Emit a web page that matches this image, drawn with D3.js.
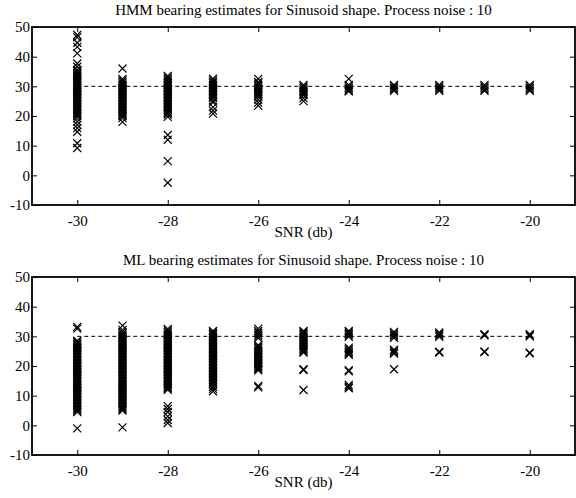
<!DOCTYPE html>
<html>
<head>
<meta charset="utf-8">
<script src="https://cdn.jsdelivr.net/npm/d3@7"></script>
<style>
  body { margin: 0; background: #fff; }
  text { font-family: "Liberation Serif", "Times New Roman", serif; fill: #000; }
</style>
</head>
<body>
<div id="chart"></div>
<script>
// SNR levels (db) for the columns
var snrLevels = [-30, -29, -28, -27, -26, -25, -24, -23, -22, -21, -20];
var xTicks = [-30, -28, -26, -24, -22, -20];
var yTicks = [-10, 0, 10, 20, 30, 40, 50];
var trueBearing = 30;

var titles = [
  "HMM bearing estimates for Sinusoid shape. Process noise : 10",
  "ML bearing estimates for Sinusoid shape. Process noise : 10"
];

// HMM estimates, one list per SNR level
var hmmEstimates = [
  [47.3, 46.5, 44.7, 43.3, 41.1, 37.7, 36.6, 35.5, 35, 34.5, 34, 33.5, 33, 32.5, 32, 31.5, 31, 30.5, 30, 29.5, 29, 28.5, 28, 27.5, 27,
   26.5, 26, 25.5, 25, 24.5, 24, 23.5, 23, 22.5, 22, 21.5, 21, 20.5, 20, 19.2, 18.1, 17, 15.9, 14.7, 10.8, 9.2],
  [36, 32.5, 32, 31.5, 31, 30.5, 30, 29.5, 29, 28.5, 28, 27.5, 27, 26.5, 26, 25.5, 25, 24.5, 24, 23.5, 23, 22.5, 22, 21.5, 21,
   20.5, 20, 19.3, 18],
  [33.5, 33, 32.5, 32, 31.5, 31, 30.5, 30, 29.5, 29, 28.5, 28, 27.5, 27, 26.5, 26, 25.5, 25, 24.5, 24, 23.5, 23, 22.5, 22, 21.5,
   21, 20.5, 19.7, 13.6, 12, 4.8, -2.5],
  [32.6, 32, 31.5, 31, 30.5, 30, 29.5, 29, 28.5, 28, 27.5, 27, 26.5, 26, 25.2, 24.6, 23, 21.8, 20.8],
  [32.5, 31.5, 31, 30.5, 30, 29.5, 29, 28.5, 28, 27.5, 27, 26.5, 25.5, 24.5, 23.5],
  [30.5, 30, 29.5, 29, 28.5, 28, 27.5, 27, 26, 25],
  [32.5, 30.5, 30, 29.5, 29, 28.5, 28.3],
  [30.5, 30, 29.5, 29, 28.5],
  [30.5, 30, 29.5, 29, 28.5],
  [30.5, 30, 29.5, 29, 28.5],
  [30.5, 30, 29.5, 29, 28.5]
];

// ML estimates, one list per SNR level
var mlEstimates = [
  [33.2, 32.6, 28.5, 28, 27.5, 27, 26.5, 26, 25.5, 25, 24.5, 24, 23.5, 23, 22.5, 22, 21.5, 21, 20.5, 20, 19.5, 19, 18.5, 18, 17.5,
   17, 16.5, 16, 15.5, 15, 14.5, 14, 13.5, 13, 12.5, 12, 11.5, 11, 10.5, 10, 9.5, 9, 8.5, 8, 7.5, 7, 6.5, 6, 5.5, 5, 4.5, -1],
  [33.6, 32.2, 31.5, 31, 30.5, 30, 29.5, 29, 28.5, 28, 27.5, 27, 26.5, 26, 25.5, 25, 24.5, 24, 23.5, 23, 22.5, 22, 21.5, 21, 20.5,
   20, 19.5, 19, 18.5, 18, 17.5, 17, 16.5, 16, 15.5, 15, 14.5, 14, 13.5, 13, 12.5, 12, 11.5, 11, 10.5, 10, 9.5, 9, 8.5, 8, 7.5,
   7, 6.5, 6, 5.5, 5, -0.7],
  [32.5, 32, 31.5, 31, 30.5, 30, 29.5, 29, 28.5, 28, 27.5, 27, 26.5, 26, 25.5, 25, 24.5, 24, 23.5, 23, 22.5, 22, 21.5, 21, 20.5,
   20, 19.5, 19, 18.5, 18, 17.5, 17, 16.5, 16, 15.5, 15, 14.5, 14, 13.5, 13, 12.5, 12, 6.5, 5.5, 4.5, 3, 1.8, 0.8],
  [31.8, 31.3, 30.8, 30.3, 29.8, 29.3, 28.8, 28.3, 27.8, 27.3, 26.8, 26.3, 25.8, 25.3, 24.8, 24.3, 23.8, 23.3, 22.8, 22.3, 21.8,
   21.3, 20.8, 20.3, 19.8, 19.3, 18.8, 18.3, 17.8, 17.3, 16.8, 16.3, 15.8, 15.3, 14.8, 14.3, 13.8, 13, 12.3, 11.5],
  [32.6, 31.8, 31.2, 30.6, 30, 29.4, 27, 26.5, 26, 25.5, 25, 24.5, 24, 23.5, 23, 22.5, 22, 21.5, 21, 20.5, 20, 19.5, 19, 18.5,
   13.3, 12.8],
  [31.8, 31.3, 30.8, 30.3, 29.8, 29.3, 28.8, 28.3, 27.8, 27.3, 26.8, 26.3, 25.8, 25.3, 24.8, 24.5, 18.9, 18.6, 11.9],
  [31.8, 31.3, 30.8, 30.3, 29.8, 26.2, 25.7, 25.2, 24.7, 24.2, 23.8, 18.6, 18.2, 13.6, 13, 12.5],
  [31.5, 31, 30.5, 30, 29.5, 25.5, 25, 24.5, 24.2, 18.9],
  [31.3, 30.8, 30.3, 29.8, 24.8, 24.5],
  [30.7, 30.3, 24.9, 24.7],
  [30.7, 30.3, 30, 24.5, 24.3]
];

var width = 576, height = 498;
var margin = { left: 32, right: 1 };
var panels = [
  { top: 27, bottom: 205, data: hmmEstimates, title: titles[0] },
  { top: 277, bottom: 455, data: mlEstimates, title: titles[1] }
];

var svg = d3.select("#chart").append("svg")
  .attr("width", width)
  .attr("height", height);

var x = d3.scaleLinear().domain([-31, -19]).range([margin.left, width - margin.right]);
var fmt = function(d) { return String(d); };   // plain hyphen, like the original

panels.forEach(function(p) {
  var y = d3.scaleLinear().domain([-10, 50]).range([p.bottom, p.top]);
  var g = svg.append("g");

  // title
  g.append("text")
    .attr("x", (x.range()[0] + x.range()[1]) / 2)
    .attr("y", p.top - 12)
    .attr("text-anchor", "middle")
    .style("font-size", "15px")
    .text(p.title);

  // axes with inward ticks, labels on the left/bottom
  g.append("g")
    .attr("transform", "translate(0," + p.bottom + ")")
    .call(d3.axisBottom(x).tickValues(xTicks).tickSizeInner(-5).tickSizeOuter(0).tickPadding(10)
      .tickFormat(fmt));
  g.append("g")
    .attr("transform", "translate(0," + p.top + ")")
    .call(d3.axisTop(x).tickValues(xTicks).tickSizeInner(-5).tickSizeOuter(0).tickFormat(""));
  g.append("g")
    .attr("transform", "translate(" + x.range()[0] + ",0)")
    .call(d3.axisLeft(y).tickValues(yTicks).tickSizeInner(-5).tickSizeOuter(0).tickPadding(2)
      .tickFormat(fmt));
  g.append("g")
    .attr("transform", "translate(" + x.range()[1] + ",0)")
    .call(d3.axisRight(y).tickValues(yTicks).tickSizeInner(-5).tickSizeOuter(0).tickFormat(""));

  g.selectAll(".domain").remove();
  g.selectAll(".tick line").attr("stroke", "#000").attr("stroke-width", 1);
  g.selectAll(".tick text")
    .style("font-family", "'Liberation Serif', serif")
    .style("font-size", "15px")
    .attr("fill", "#000");

  // frame
  g.append("rect")
    .attr("x", x.range()[0])
    .attr("y", p.top)
    .attr("width", x.range()[1] - x.range()[0])
    .attr("height", p.bottom - p.top)
    .attr("fill", "none")
    .attr("stroke", "#000")
    .attr("stroke-width", 1.8);

  // true bearing, dashed
  g.append("line")
    .attr("x1", x(snrLevels[0]))
    .attr("x2", x(snrLevels[snrLevels.length - 1]))
    .attr("y1", y(trueBearing))
    .attr("y2", y(trueBearing))
    .attr("stroke", "#000")
    .attr("stroke-width", 1)
    .attr("stroke-dasharray", "4,3");

  // x markers
  var pts = [];
  p.data.forEach(function(vals, i) {
    vals.forEach(function(v) { pts.push([snrLevels[i], v]); });
  });
  var s = 4;
  g.append("g").selectAll("path")
    .data(pts)
    .enter()
    .append("path")
    .attr("d", function(d) {
      var cx = x(d[0]), cy = y(d[1]);
      return "M" + (cx - s) + "," + (cy - s) + "L" + (cx + s) + "," + (cy + s) +
             "M" + (cx - s) + "," + (cy + s) + "L" + (cx + s) + "," + (cy - s);
    })
    .attr("stroke", "#000")
    .attr("stroke-width", 1.2)
    .attr("fill", "none");

  // x label
  g.append("text")
    .attr("x", (x.range()[0] + x.range()[1]) / 2)
    .attr("y", p.bottom + 32)
    .attr("text-anchor", "middle")
    .style("font-size", "15px")
    .text("SNR (db)");
});
</script>
</body>
</html>
